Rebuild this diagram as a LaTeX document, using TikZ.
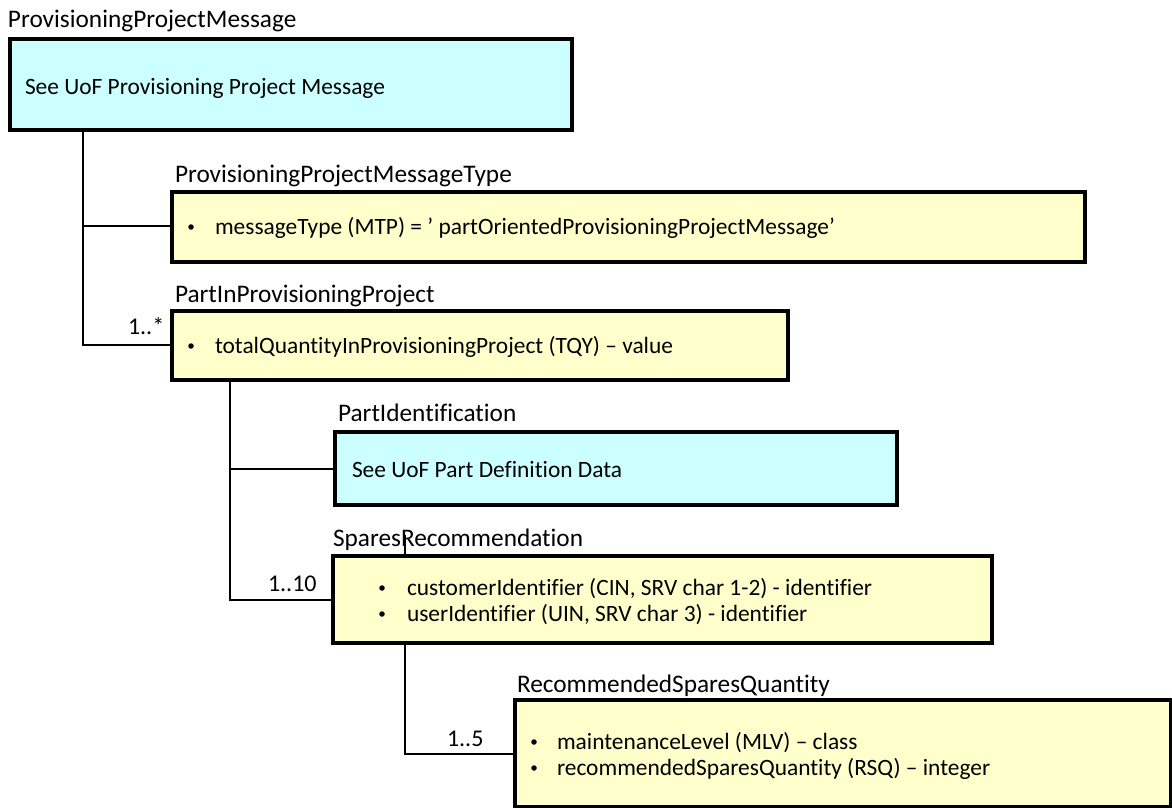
\documentclass[tikz,border=0pt]{standalone}
\usepackage{fontspec}
\setmainfont{Carlito}[Ligatures=NoCommon]
\begin{document}
\begin{tikzpicture}[x=1pt,y=-1pt,
  every node/.style={inner sep=0pt,outer sep=0pt,font=\fontsize{23.4}{28}\selectfont},
  refbox/.style={draw=black,line width=3.2pt,fill=cyanfill},
  attrbox/.style={draw=black,line width=3.2pt,fill=yellowfill},
  link/.style={draw=black,line width=1.6pt},
  txt/.style={anchor=base west},
  title/.style={anchor=base west,font=\fontsize{25.3}{30}\selectfont},
  mult/.style={anchor=base west,font=\fontsize{24}{28}\selectfont},
  dot/.style={circle,fill=black,minimum size=5.5pt},
]
\definecolor{cyanfill}{HTML}{CCFFFF}
\definecolor{yellowfill}{HTML}{FFFFCC}
\useasboundingbox (0,0) rectangle (1172,808);

% connector corner points
\coordinate (a1) at (83,130);
\coordinate (a2) at (83,226);
\coordinate (a3) at (83,345);
\coordinate (b1) at (230,380);
\coordinate (b2) at (230,469);
\coordinate (b3) at (230,600);
\coordinate (c0) at (405,535);
\coordinate (c1) at (405,643);
\coordinate (c2) at (405,754);

% boxes
\path[refbox]  (10,39)   rectangle (572,130);
\path[attrbox] (172,192) rectangle (1085,262);
\path[attrbox] (172,311) rectangle (788,380);
\path[refbox]  (335,432) rectangle (897,505);
\path[attrbox] (333,556) rectangle (992,643);
\path[attrbox] (515,700) rectangle (1171,807);

% connector end points on the box edges
\node (mtype)  at (172,226) {};
\node (pipp)   at (172,345) {};
\node (pid)    at (335,469) {};
\node (spr)    at (333,600) {};
\node (sprtop) at (405,556) {};
\node (rsq)    at (515,754) {};

\draw[link] (a1) -- (a3) -- (pipp);
\draw[link] (a2) -- (mtype);
\draw[link] (b1) -- (b3) -- (spr);
\draw[link] (b2) -- (pid);
\draw[link] (c0) -- (sprtop);
\draw[link] (c1) -- (c2) -- (rsq);

% titles
\node[title] (t1) at (8,28)    {ProvisioningProjectMessage};
\node[title] (t2) at (175,182) {ProvisioningProjectMessageType};
\node[title] (t3) at (175,302) {PartInProvisioningProject};
\node[title] (t4) at (338,421) {PartIdentification};
\node[title] (t5) at (333,546) {SparesRecommendation};
\node[title] (t6) at (517,692) {RecommendedSparesQuantity};

% multiplicities
\node[mult] (m1) at (128,334) {1..*};
\node[mult] (m2) at (268,591) {1..10};
\node[mult] (m3) at (447,746) {1..5};

% box contents
\node[txt] (x1) at (25,94) {See UoF Provisioning Project Message};
\node[dot] (d2) at (191,227) {};
\node[txt] (x2) at (215,234) {messageType (MTP) = ’ partOrientedProvisioningProjectMessage’};
\node[dot] (d3) at (191,346) {};
\node[txt] (x3) at (215,353) {totalQuantityInProvisioningProject (TQY) – value};
\node[txt] (x4) at (352,477) {See UoF Part Definition Data};
\node[dot] (d5) at (382,588) {};
\node[txt] (x5) at (407,595) {customerIdentifier (CIN, SRV char 1-2) - identifier};
\node[dot] (d6) at (382,614) {};
\node[txt] (x6) at (407,621) {userIdentifier (UIN, SRV char 3) - identifier};
\node[dot] (d7) at (534,742) {};
\node[txt] (x7) at (557,749) {maintenanceLevel (MLV) – class};
\node[dot] (d8) at (534,768) {};
\node[txt] (x8) at (557,775) {recommendedSparesQuantity (RSQ) – integer};
\end{tikzpicture}
\end{document}
